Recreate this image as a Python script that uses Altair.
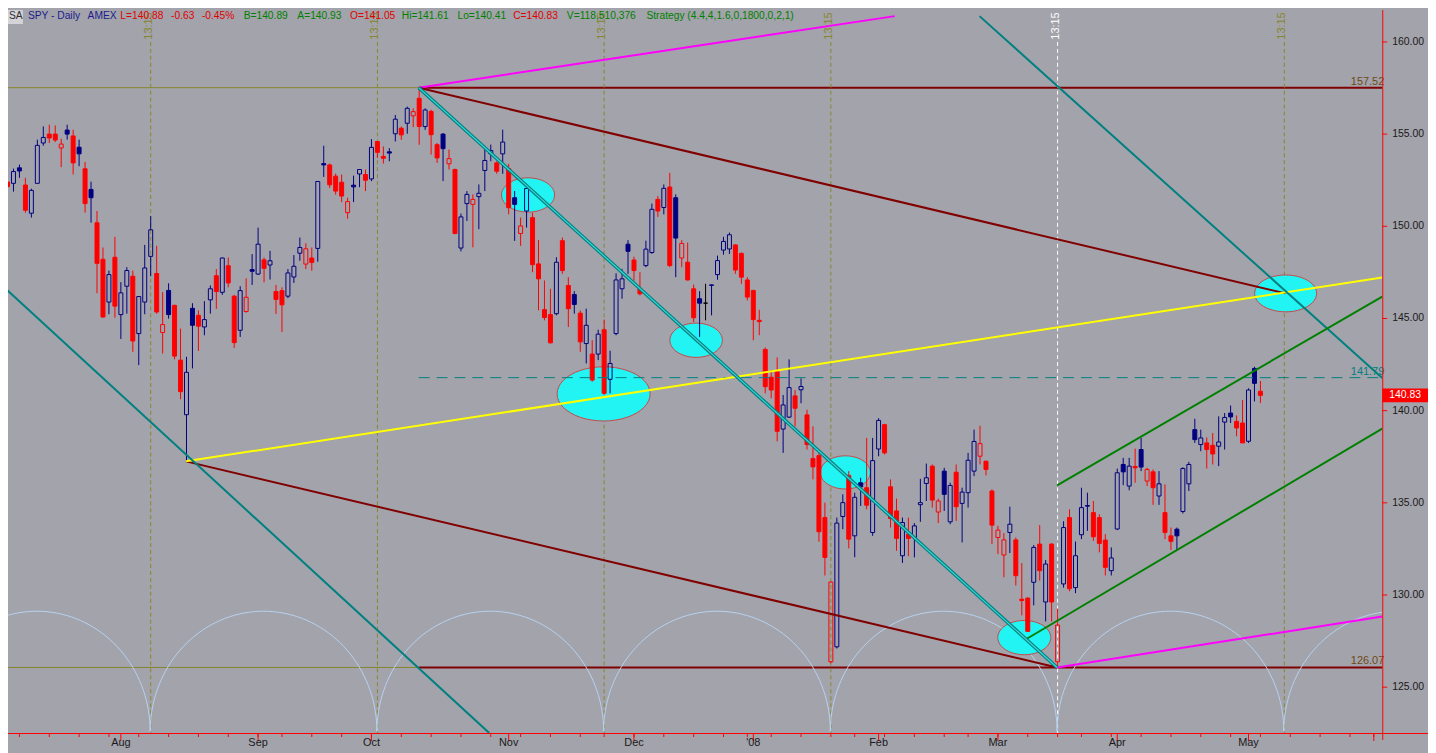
import altair as alt
import numpy as np
import pandas as pd

# ---------------- data ----------------
holidays = ["2007-07-04", "2007-09-03", "2007-11-22", "2007-12-25", "2008-01-01",
            "2008-01-21", "2008-02-18", "2008-03-21", "2008-05-26"]

opens = [152.16, 152.40, 152.33, 153.17, 152.24, 150.71, 152.33, 154.52, 155.00, 155.00,
         154.25, 155.22, 154.90, 154.29, 153.12, 152.00, 150.19, 148.21, 145.89, 148.32,
         145.21, 146.75, 147.29, 144.18, 145.89, 148.37, 147.44, 144.24, 146.52, 145.71,
         142.74, 139.78, 145.55, 145.17, 144.54, 146.01, 147.32, 146.42, 147.86, 146.21,
         144.36, 145.38, 147.65, 147.41, 148.18, 147.90, 146.46, 146.51, 146.21, 147.25,
         148.54, 147.95, 148.28, 148.80, 153.40, 153.33, 152.72, 152.39, 150.74, 152.23,
         152.84, 152.81, 152.57, 154.60, 153.79, 154.04, 155.02, 155.32, 155.59, 155.99,
         156.94, 155.41, 156.23, 154.43, 155.00, 153.39, 153.08, 148.82, 151.23, 151.19,
         151.61, 153.03, 153.93, 153.44, 153.93, 153.13, 151.55, 149.61, 150.83, 150.47,
         147.96, 145.48, 145.21, 145.26, 149.22, 146.79, 146.30, 145.29, 143.64, 143.07,
         143.07, 144.39, 141.70, 144.18, 146.61, 149.03, 148.17, 146.61, 147.87, 148.58,
         151.46, 151.02, 152.13, 151.55, 148.28, 148.05, 146.61, 146.07, 145.83, 146.82,
         147.38, 148.71, 148.77, 148.99, 148.53, 147.09, 146.52, 144.90, 143.32, 141.81,
         142.11, 139.00, 139.65, 140.80, 141.13, 139.77, 137.40, 137.56, 134.20, 126.38,
         127.19, 134.26, 136.49, 133.21, 136.09, 135.82, 133.39, 137.92, 139.24, 135.87,
         134.56, 132.13, 133.30, 133.12, 134.90, 136.05, 136.99, 134.50, 136.72, 133.97,
         136.66, 134.97, 135.55, 136.72, 137.53, 137.26, 135.64, 133.12, 132.17, 133.39,
         132.99, 129.77, 129.83, 130.69, 132.76, 129.62, 132.76, 126.38, 130.60, 134.20,
         130.40, 133.27, 134.85, 134.47, 134.20, 132.98, 131.32, 133.58, 137.08, 135.91,
         136.97, 137.89, 136.18, 136.68, 135.37, 134.47, 133.21, 133.57, 134.53, 136.03,
         138.97, 138.16, 138.25, 138.12, 138.07, 139.38, 139.87, 139.42, 139.33, 138.34,
         142.29, 141.05]
highs = [152.50, 152.54, 153.13, 153.35, 152.63, 152.04, 154.70, 155.42, 155.51, 155.47,
         154.75, 155.51, 155.24, 154.70, 153.49, 152.42, 150.83, 148.85, 147.60, 149.43,
         146.97, 147.78, 147.60, 146.19, 148.99, 150.55, 148.94, 146.43, 146.91, 145.75,
         144.45, 142.92, 145.83, 145.44, 145.94, 146.79, 147.68, 148.31, 148.31, 146.28,
         146.75, 147.18, 148.49, 149.93, 148.31, 148.67, 146.82, 146.69, 147.68, 148.44,
         149.39, 149.08, 148.85, 152.43, 154.37, 153.40, 152.86, 152.81, 151.55, 152.75,
         153.08, 153.08, 154.73, 154.60, 154.33, 154.24, 156.04, 155.41, 156.49, 156.40,
         157.52, 156.40, 156.32, 154.52, 155.06, 154.16, 153.13, 150.69, 151.91, 151.73,
         152.27, 154.25, 154.43, 153.53, 155.24, 153.39, 151.91, 150.47, 152.09, 150.74,
         149.25, 147.06, 146.61, 148.32, 149.39, 147.24, 146.48, 145.44, 145.53, 143.82,
         144.39, 144.94, 143.25, 147.45, 147.69, 149.25, 148.35, 147.51, 149.22, 151.23,
         151.64, 152.27, 152.90, 151.73, 149.25, 149.12, 146.84, 146.48, 146.88, 146.84,
         148.41, 149.43, 149.66, 149.03, 148.58, 147.24, 146.55, 145.47, 143.43, 142.20,
         142.89, 140.85, 142.78, 141.12, 141.75, 140.05, 139.15, 137.74, 135.01, 130.73,
         134.20, 135.46, 136.72, 135.55, 136.36, 138.52, 138.52, 139.59, 139.29, 136.27,
         135.23, 134.20, 134.20, 133.90, 136.30, 137.13, 137.08, 135.23, 136.90, 136.09,
         137.08, 135.82, 137.71, 138.97, 139.18, 137.26, 135.73, 133.75, 133.36, 134.79,
         133.12, 131.73, 129.88, 132.71, 133.79, 131.90, 132.81, 129.26, 134.00, 134.65,
         132.90, 135.82, 135.55, 135.10, 134.38, 133.30, 132.58, 136.86, 137.44, 137.44,
         137.94, 138.52, 136.90, 136.81, 136.72, 136.00, 133.66, 133.66, 136.93, 137.22,
         139.56, 138.97, 138.55, 138.79, 139.69, 139.87, 140.28, 139.74, 140.58, 141.21,
         142.38, 141.61]
lows = [152.00, 151.59, 151.88, 152.63, 150.74, 150.47, 152.33, 154.37, 154.52, 154.57,
        153.21, 154.70, 152.81, 153.26, 150.74, 150.20, 146.37, 145.04, 145.23, 145.04,
        143.89, 145.26, 143.19, 142.47, 145.23, 147.29, 145.26, 143.10, 144.99, 142.78,
        140.62, 137.25, 142.29, 143.24, 144.09, 145.26, 145.52, 146.28, 146.69, 143.40,
        144.00, 145.31, 146.82, 147.36, 146.96, 147.11, 145.25, 144.27, 146.10, 146.93,
        148.13, 147.68, 147.59, 148.08, 152.68, 152.07, 151.71, 151.31, 150.41, 151.31,
        152.12, 151.91, 152.45, 153.71, 153.40, 153.53, 154.60, 154.69, 155.02, 155.38,
        154.42, 155.23, 153.89, 153.44, 152.45, 153.08, 149.57, 148.64, 150.29, 148.86,
        149.84, 151.91, 153.53, 152.85, 152.85, 150.65, 149.21, 148.94, 149.93, 147.51,
        145.44, 144.90, 143.64, 145.17, 147.42, 144.54, 145.26, 143.19, 142.56, 141.57,
        142.74, 140.85, 140.94, 144.09, 146.07, 147.42, 147.06, 146.25, 147.78, 148.50,
        150.51, 150.65, 147.78, 147.24, 147.78, 147.06, 144.81, 144.00, 144.90, 145.17,
        147.10, 148.46, 148.50, 147.42, 146.88, 145.98, 143.82, 144.09, 140.94, 140.67,
        138.34, 137.71, 139.60, 139.15, 140.40, 137.89, 136.27, 132.89, 131.06, 126.29,
        127.10, 133.57, 132.53, 132.05, 134.83, 134.65, 133.21, 137.53, 137.62, 133.66,
        132.40, 131.74, 132.10, 132.04, 133.97, 135.10, 134.74, 133.90, 134.56, 133.84,
        134.02, 132.85, 134.74, 136.45, 137.08, 136.49, 132.76, 132.22, 130.96, 132.28,
        130.52, 128.90, 128.00, 129.44, 130.78, 128.57, 128.57, 126.07, 130.40, 130.20,
        130.10, 133.03, 133.48, 132.94, 132.31, 131.06, 131.06, 133.52, 135.96, 135.68,
        136.09, 136.72, 135.91, 134.89, 134.89, 133.03, 132.44, 132.40, 134.42, 135.64,
        138.25, 137.80, 136.86, 137.08, 136.99, 137.89, 139.33, 138.61, 138.25, 138.25,
        140.50, 140.41]
closes = [152.36, 152.15, 152.97, 153.00, 150.87, 151.95, 154.39, 154.82, 154.79, 154.68,
          154.46, 155.00, 153.44, 153.93, 151.23, 151.55, 147.99, 145.08, 147.38, 145.67,
          146.39, 147.60, 143.78, 146.19, 147.74, 149.81, 145.35, 144.67, 145.21, 142.96,
          141.03, 142.08, 144.63, 144.58, 144.94, 146.61, 146.46, 148.28, 146.93, 143.69,
          146.51, 146.15, 147.56, 149.03, 147.72, 148.13, 146.03, 145.74, 147.47, 147.83,
          148.85, 148.78, 148.04, 152.43, 153.33, 152.25, 151.91, 151.64, 151.34, 152.14,
          153.08, 152.50, 154.28, 154.01, 153.69, 153.97, 155.81, 154.96, 156.40, 156.22,
          155.41, 156.31, 154.97, 153.71, 154.21, 153.67, 149.61, 150.51, 151.73, 151.46,
          151.79, 153.57, 154.11, 152.99, 154.57, 151.01, 151.19, 150.02, 152.05, 147.92,
          147.15, 145.05, 143.68, 148.05, 147.60, 145.53, 145.76, 143.73, 144.63, 141.66,
          144.15, 140.94, 142.56, 147.09, 147.15, 148.64, 147.60, 146.34, 148.76, 150.92,
          150.83, 152.06, 147.87, 149.36, 149.07, 147.09, 145.04, 145.83, 145.83, 146.80,
          148.14, 149.18, 149.54, 147.63, 147.24, 146.16, 144.94, 144.83, 141.30, 141.12,
          138.88, 140.31, 141.25, 140.13, 141.31, 138.16, 136.95, 133.43, 132.04, 130.70,
          133.90, 135.01, 133.03, 135.30, 135.87, 134.87, 137.29, 139.47, 137.71, 134.15,
          133.07, 133.93, 133.07, 133.75, 135.01, 136.36, 135.15, 135.10, 135.46, 135.94,
          134.79, 135.58, 137.31, 138.33, 138.21, 136.81, 133.79, 133.52, 132.99, 133.84,
          131.05, 129.70, 128.03, 132.58, 131.32, 131.68, 129.62, 128.37, 133.66, 130.34,
          132.13, 134.74, 134.82, 133.16, 132.80, 131.50, 132.01, 136.63, 136.68, 136.99,
          136.90, 136.94, 136.81, 135.82, 136.03, 133.39, 132.91, 133.21, 136.86, 137.08,
          138.43, 138.52, 137.89, 137.65, 138.30, 139.63, 139.66, 139.06, 138.25, 141.12,
          141.48, 140.83]

# Horizontal levels (price) and the bar where they switch colour
level_prices = [157.52, 126.07]
level_split_bar = 70
mid_level = 141.79

# Trend lines: start bar, start price, end bar, end price
tl_names = ["magenta1", "magenta2", "darkred1", "darkred2", "yellow", "teal_left",
            "teal_right", "green_up", "green_low"]
tl_x1 = [70, 177, 70, 31, 31, -0.17, 164.0, 177, 172]
tl_p1 = [157.52, 126.07, 157.52, 137.25, 137.25, 146.89, 161.40, 135.95, 127.64]
tl_x2 = [149.8, 231.5, 215.3, 177, 231.5, 81.83, 231.5, 231.5, 231.5]
tl_p2 = [161.40, 128.83, 146.36, 126.07, 147.22, 122.51, 141.77, 146.19, 139.02]
# Oct high -> Mar low fan line (double teal)
fan_x = [70, 177]
fan_p = [157.52, 126.07]

# Cycle lines (bar index) and arcs
cycle_bars = [25, 63, 101, 139, 177, 215]
cycle_label = "13:15"
arc_top_price = 129.12
arc_base_price = 122.6

# Highlight ellipses: centre bar, centre price, half width (bars), half height (price)
ell_bar = [88.33, 116.5, 101.0, 141.5, 171.5, 215.3]
ell_price = [151.70, 143.82, 140.91, 136.65, 127.69, 146.36]
ell_halfw = [4.45, 4.4, 7.8, 4.2, 4.45, 5.2]
ell_halfh = [0.93, 0.93, 1.47, 0.90, 0.93, 1.0]

# Header
hdr_text = ["SPY - Daily", "AMEX", "L=140.88", "-0.63", "-0.45%", "B=140.89", "A=140.93",
            "O=141.05", "Hi=141.61", "Lo=140.41", "C=140.83", "V=118,510,376",
            "Strategy (4.4,4,1.6,0,1800,0,2,1)"]
hdr_kind = ["n", "n", "r", "r", "r", "g", "g", "r", "g", "g", "r", "g", "g"]

y_ticks = [125, 130, 135, 140, 145, 150, 155, 160]

# ---------------- layout / style ----------------
FONT = "Liberation Sans"
BG = "#a3a3ab"
NAVY = "#000080"
RED = "#ff0000"
OLIVE = "#86862c"
MAROON = "#800000"
TEAL = "#008080"
W, H = 1382, 727
X0, X1 = 7 / 6, 231.5
Y0, Y1 = 122.514, 161.728
PXB = W / (X1 - X0)
PXP = H / (Y1 - Y0)
HALF = 0.5 / PXB
XS = alt.Scale(domain=[X0, X1], nice=False, zero=False)
YS = alt.Scale(domain=[Y0, Y1], nice=False, zero=False)
hdr_px = [20, 80, 113, 164, 195, 237, 291, 344, 396, 452, 508, 562, 642]
kind_color = {"n": "#1c1c8c", "r": "#e00000", "g": "#008000"}
tl_color = {"magenta1": "#ff00ff", "magenta2": "#ff00ff", "darkred1": MAROON,
            "darkred2": MAROON, "yellow": "#ffff00", "teal_left": TEAL,
            "teal_right": TEAL, "green_up": "#008000", "green_low": "#008000"}


def X(field):
    return alt.X(field, type="quantitative", scale=XS, axis=None)


def Y(field):
    return alt.Y(field, type="quantitative", scale=YS, axis=None)


# ---------------- calendar ----------------
days = pd.bdate_range("2007-07-03", "2008-06-30")
days = days[~days.isin(pd.to_datetime(holidays))]
n = min(len(opens), len(highs), len(lows), len(closes))

# ---------------- candles ----------------
df = pd.DataFrame({"i": np.arange(n), "o": opens[:n], "h": highs[:n],
                   "l": lows[:n], "c": closes[:n]})
prev = df["c"].shift(1)
cols = []
for k in range(n):
    if k == 0 or df.c[k] > prev[k] + 0.001:
        cols.append(NAVY)
    elif df.c[k] < prev[k] - 0.001:
        cols.append(RED)
    else:
        cols.append("#000000")
df["col"] = cols
df["fo"] = (df.c < df.o).astype(float)
df["top"] = df[["o", "c"]].max(axis=1)
df["bot"] = df[["o", "c"]].min(axis=1)
df["xc"] = df.i + HALF
df["x0"] = df.i + (-2 + 0.5) / PXB
df["x1"] = df.i + (2 + 0.5) / PXB

wick_up = alt.Chart(df).mark_rule(strokeWidth=1, clip=True).encode(
    x=X("xc"), y=Y("top"), y2="h:Q", color=alt.Color("col:N", scale=None))
wick_dn = alt.Chart(df).mark_rule(strokeWidth=1, clip=True).encode(
    x=X("xc"), y=Y("l"), y2="bot:Q", color=alt.Color("col:N", scale=None))
bodies = alt.Chart(df).mark_rect(strokeWidth=1, clip=True).encode(
    x=X("x0"), x2="x1:Q", y=Y("bot"), y2="top:Q",
    stroke=alt.Stroke("col:N", scale=None), fill=alt.Fill("col:N", scale=None),
    fillOpacity=alt.FillOpacity("fo:Q", scale=None))

# ---------------- cycle lines & arcs ----------------
cyc = pd.DataFrame({"i": cycle_bars})
cyc["xc"] = cyc.i + HALF
cyc["col"] = [("#ffffff" if b == fan_x[1] else OLIVE) for b in cycle_bars]
cyc["lab"] = cycle_label
cyc_lines = alt.Chart(cyc).mark_rule(strokeDash=[4, 3], strokeWidth=1).encode(
    x=X("xc"), y=alt.value(32), y2=alt.value(H), color=alt.Color("col:N", scale=None))
cyc_text = alt.Chart(cyc).mark_text(angle=270, fontSize=11, font=FONT, dy=-2).encode(
    x=X("xc"), y=alt.value(16), text="lab:N", color=alt.Color("col:N", scale=None))

period = cycle_bars[1] - cycle_bars[0]
cusps = [cycle_bars[0] - period] + cycle_bars + [cycle_bars[-1] + period]
arc_rows = []
t = np.linspace(0, np.pi, 73)
for k in range(len(cusps) - 1):
    a, b = cusps[k], cusps[k + 1]
    mid, hw = (a + b) / 2, (b - a) / 2
    for j, tt in enumerate(t):
        arc_rows.append({"k": k, "t": j, "x": mid - hw * np.cos(tt),
                         "p": arc_base_price + (arc_top_price - arc_base_price) * np.sin(tt)})
arcs = alt.Chart(pd.DataFrame(arc_rows)).mark_line(
    strokeWidth=1, color="#b6d2f0", clip=True).encode(
    x=X("x"), y=Y("p"), detail="k:N", order="t:Q")

# ---------------- levels ----------------
lv_rows = []
for p in level_prices:
    lv_rows.append({"x": -2, "x2": level_split_bar, "p": p, "col": OLIVE, "w": 1})
    lv_rows.append({"x": level_split_bar, "x2": 233, "p": p, "col": MAROON, "w": 2})
levels = alt.Chart(pd.DataFrame(lv_rows)).mark_rule(clip=True).encode(
    x=X("x"), x2="x2:Q", y=Y("p"), color=alt.Color("col:N", scale=None),
    strokeWidth=alt.StrokeWidth("w:Q", scale=None))
mid_df = pd.DataFrame({"x": [level_split_bar], "x2": [233], "p": [mid_level]})
mid_line = alt.Chart(mid_df).mark_rule(strokeDash=[11, 7], strokeWidth=1, color=TEAL,
                                       clip=True).encode(x=X("x"), x2="x2:Q", y=Y("p"))

lab_df = pd.DataFrame({"p": level_prices + [mid_level],
                       "txt": [f"{v:.2f}" for v in level_prices + [mid_level]],
                       "col": ["#6e4a14", "#6e4a14", TEAL]})
level_labels = alt.Chart(lab_df).mark_text(align="right", baseline="bottom", dy=-1,
                                           fontSize=11, font=FONT).encode(
    x=alt.value(W + 2), y=Y("p"), text="txt:N", color=alt.Color("col:N", scale=None))

# ---------------- ellipses ----------------
ell_rows = []
for cx, cp, hw, hh in zip(ell_bar, ell_price, ell_halfw, ell_halfh):
    rx, ry = hw * PXB, hh * PXP
    asp = ry / rx
    ang = np.linspace(0, 2 * np.pi, 49)[:-1]
    path = "M" + "L".join(f"{np.cos(a):.4f},{asp * np.sin(a):.4f}" for a in ang) + "Z"
    ell_rows.append({"x": cx, "p": cp, "path": path, "sz": (2 * rx) ** 2})
ellipses = alt.Chart(pd.DataFrame(ell_rows)).mark_point(
    filled=True, fill="#22f4f4", stroke="#c84848", strokeWidth=1, opacity=1,
    fillOpacity=1).encode(x=X("x"), y=Y("p"),
                          shape=alt.Shape("path:N", scale=None),
                          size=alt.Size("sz:Q", scale=None))

# ---------------- trend lines ----------------
tl_df = pd.DataFrame({"name": tl_names, "x": tl_x1, "y": tl_p1, "x2": tl_x2, "y2": tl_p2})
tl_df["col"] = [tl_color[nm] for nm in tl_names]
trend = alt.Chart(tl_df).mark_rule(strokeWidth=2, clip=True).encode(
    x=X("x"), x2="x2:Q", y=Y("y"), y2="y2:Q", color=alt.Color("col:N", scale=None))
fan_df = pd.DataFrame({"x": [fan_x[0]], "x2": [fan_x[1]], "y": [fan_p[0]], "y2": [fan_p[1]]})
fan_outer = alt.Chart(fan_df).mark_rule(strokeWidth=3.5, color=TEAL, clip=True).encode(
    x=X("x"), x2="x2:Q", y=Y("y"), y2="y2:Q")
fan_inner = alt.Chart(fan_df).mark_rule(strokeWidth=1.2, color="#3ad8d8", clip=True).encode(
    x=X("x"), x2="x2:Q", y=Y("y"), y2="y2:Q")

# ---------------- right price axis (drawn) ----------------
one = pd.DataFrame({"a": [0]})
yt_df = pd.DataFrame({"p": y_ticks, "txt": [f"{v:.2f}" for v in y_ticks]})
yaxis_line = alt.Chart(one).mark_rule(color=RED, strokeWidth=1).encode(
    x=alt.value(W + 0.5), y=alt.value(0), y2=alt.value(H + 7))
yaxis_ticks = alt.Chart(yt_df).mark_rule(color=RED, strokeWidth=1).encode(
    x=alt.value(W), x2=alt.value(W + 5), y=Y("p"))
yaxis_labels = alt.Chart(yt_df).mark_text(align="left", baseline="middle", fontSize=10.5,
                                          font=FONT, color="#1a1a1a").encode(
    x=alt.value(W + 10), y=Y("p"), text="txt:N")

# ---------------- bottom axis (drawn) ----------------
bottom_line = alt.Chart(one).mark_rule(color=RED, strokeWidth=1).encode(
    x=alt.value(0), x2=alt.value(W + 46), y=alt.value(H + 0.5))

m = days.month
month_idx = [k for k in range(1, len(days)) if m[k] != m[k - 1] and k + HALF <= X1]
wk = days.isocalendar().week.values
week_idx = [k for k in range(1, len(days)) if wk[k] != wk[k - 1] and k <= X1]
mon_df = pd.DataFrame({"i": month_idx})
mon_df["xc"] = mon_df.i + HALF
mon_df["lab"] = ["'08" if days[k].month == 1 else days[k].strftime("%b") for k in month_idx]
wk_df = pd.DataFrame({"xc": [k + HALF for k in week_idx]})
minor_ticks = alt.Chart(wk_df).mark_rule(color=RED, strokeWidth=1).encode(
    x=X("xc"), y=alt.value(H), y2=alt.value(H + 4))
major_ticks = alt.Chart(mon_df).mark_rule(color=RED, strokeWidth=1).encode(
    x=X("xc"), y=alt.value(H), y2=alt.value(H + 8))
mon_labels = alt.Chart(mon_df[mon_df.i < n]).mark_text(
    fontSize=11, font=FONT, color="#1a1a1a", baseline="middle").encode(
    x=X("xc"), y=alt.value(H + 10), text="lab:N")

# ---------------- last price box ----------------
last_df = pd.DataFrame({"p": [closes[n - 1]], "txt": [f"{closes[n - 1]:.2f}"]})
box_path = "M-1,-0.3043L1,-0.3043L1,0.3043L-1,0.3043Z"
last_box = alt.Chart(last_df).mark_point(filled=True, fill=RED, shape=box_path,
                                         size=46 ** 2, opacity=1, strokeWidth=0).encode(
    x=alt.value(W + 23), y=Y("p"))
last_txt = alt.Chart(last_df).mark_text(color="#ffffff", fontSize=10.5, font=FONT).encode(
    x=alt.value(W + 23), y=Y("p"), text="txt:N")

# ---------------- header ----------------
hdr_df = pd.DataFrame({"txt": hdr_text, "x": [X0 + px / PXB for px in hdr_px],
                       "col": [kind_color[k] for k in hdr_kind]})
header = alt.Chart(hdr_df).mark_text(align="left", baseline="top", fontSize=10.3,
                                     font=FONT).encode(
    x=X("x"), y=alt.value(1), text="txt:N", color=alt.Color("col:N", scale=None))
sa_box = alt.Chart(one).mark_rect(fill="#d4d4d8").encode(
    x=alt.value(0), x2=alt.value(15), y=alt.value(0), y2=alt.value(14))
sa_txt = alt.Chart(one).mark_text(align="left", baseline="top", fontSize=10.3, font=FONT,
                                  color="#303030", text="SA").encode(
    x=alt.value(1), y=alt.value(1))

chart = alt.layer(
    levels, cyc_lines, cyc_text, arcs, ellipses,
    wick_up, wick_dn, bodies,
    mid_line, trend, fan_outer, fan_inner, level_labels,
    yaxis_line, yaxis_ticks, yaxis_labels,
    bottom_line, minor_ticks, major_ticks, mon_labels,
    last_box, last_txt, sa_box, sa_txt, header,
).properties(
    width=W, height=H, background=BG,
    padding={"left": 0, "top": 0, "right": 46, "bottom": 18},
    autosize=alt.AutoSizeParams(type="none"),
).configure_view(stroke=None, fill=BG)

chart.save("out.html", embed_options={"renderer": "svg", "actions": False})
